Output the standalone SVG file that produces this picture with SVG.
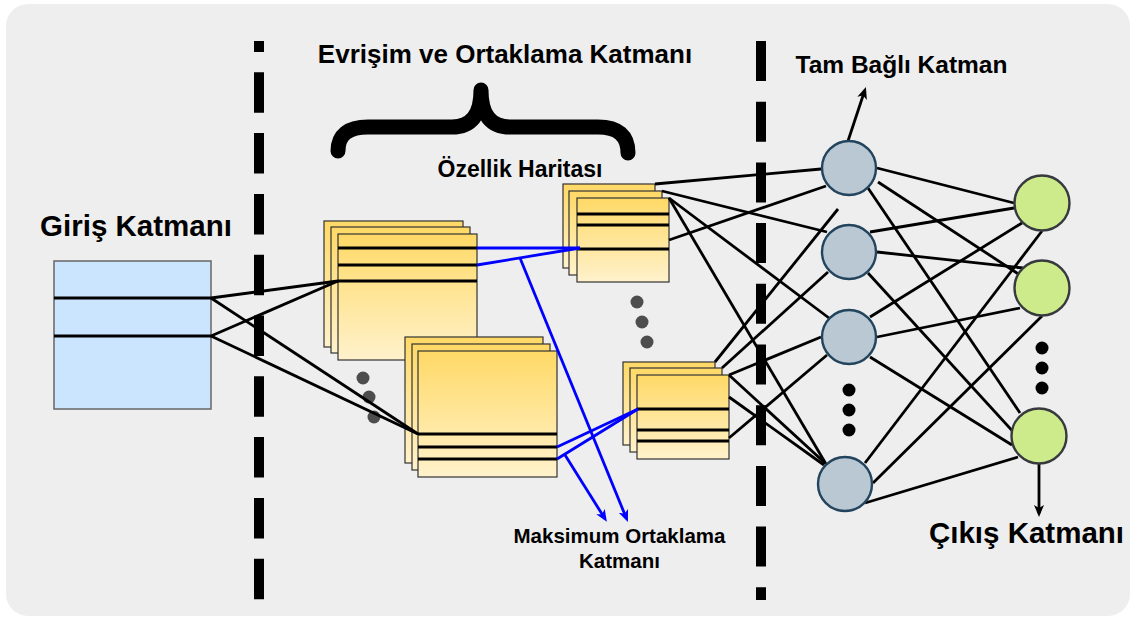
<svg xmlns="http://www.w3.org/2000/svg" width="1134" height="619" viewBox="0 0 1134 619">
  <defs>
    <linearGradient id="stackFill" x1="0" y1="0" x2="0" y2="1">
      <stop offset="0" stop-color="#ffd966"/>
      <stop offset="1" stop-color="#fff2cc"/>
    </linearGradient>
    <marker id="arrowBlack" viewBox="0 0 12 10" refX="8.5" refY="5" markerWidth="12" markerHeight="10" markerUnits="userSpaceOnUse" orient="auto">
      <path d="M0,0 L12,5 L0,10 L3,5 z" fill="#000000"/>
    </marker>
    <marker id="arrowBlue" viewBox="0 0 12 10" refX="8.5" refY="5" markerWidth="12" markerHeight="10" markerUnits="userSpaceOnUse" orient="auto">
      <path d="M0,0 L12,5 L0,10 L3,5 z" fill="#0000ff"/>
    </marker>
  </defs>
  <style>
    .label { font-family: "Liberation Sans", Arial, sans-serif; font-weight: bold; fill: #000000; text-anchor: middle; }
    .sheet { fill: url(#stackFill); stroke: #333333; stroke-width: 1.2; }
    .sheet-line { stroke: #000000; stroke-width: 3; }
    .link { stroke: #000000; stroke-width: 2.8; fill: none; }
    .pool { stroke: #0000ff; stroke-width: 2.8; fill: none; }
    .divider { stroke: #000000; stroke-width: 10; fill: none; }
    .hidden { fill: #bac8d3; stroke: #23445d; stroke-width: 2.4; }
    .out { fill: #cdeb8b; stroke: #36393d; stroke-width: 2.4; }
    .grey-dot { fill: #4d4d4d; }
    .black-dot { fill: #000000; }
  </style>

  <rect x="0" y="0" width="1134" height="619" fill="#ffffff"/>
  <rect x="6" y="4" width="1124" height="612" rx="22" fill="#eeeeee"/>

  <!-- section dividers -->
  <g id="dividers">
    <path class="divider" d="M259,41 L259,600" stroke-dasharray="40.5 20.3" stroke-dashoffset="29.5"/>
    <path class="divider" d="M761,41 L761,600" stroke-dasharray="40 20.7"/>
  </g>

  <!-- brace over the convolution part -->
  <g id="brace">
    <path d="M338,151 Q338,127 368,127 L452,127 Q481,127 481,90 Q481,127 510,127 L598,127 Q628,127 628,153" fill="none" stroke="#000000" stroke-width="15" stroke-linecap="round" stroke-linejoin="round"/>
  </g>

  <!-- input layer -->
  <g id="input-layer">
    <rect x="54" y="261" width="157" height="148" fill="#cce5ff" stroke="#666666" stroke-width="1.5"/>
    <line class="sheet-line" x1="54" y1="298" x2="211" y2="298"/>
    <line class="sheet-line" x1="54" y1="336" x2="211" y2="336"/>
  </g>

  <!-- convolution stacks -->
  <g id="conv-stack-a">
    <rect class="sheet" x="324" y="221" width="139" height="126"/>
    <rect class="sheet" x="331" y="227" width="139" height="126"/>
    <rect class="sheet" x="338" y="234" width="139" height="126"/>
    <line class="sheet-line" x1="338" y1="248" x2="477" y2="248"/>
    <line class="sheet-line" x1="338" y1="265" x2="477" y2="265"/>
    <line class="sheet-line" x1="338" y1="281" x2="477" y2="281"/>
  </g>
  <g id="conv-stack-b">
    <rect class="sheet" x="405" y="337" width="138" height="126"/>
    <rect class="sheet" x="412" y="344" width="138" height="126"/>
    <rect class="sheet" x="418" y="351" width="139" height="126"/>
    <line class="sheet-line" x1="418" y1="434" x2="557" y2="434"/>
    <line class="sheet-line" x1="418" y1="447" x2="557" y2="447"/>
    <line class="sheet-line" x1="418" y1="459" x2="557" y2="459"/>
  </g>
  <g id="conv-dots">
    <circle class="grey-dot" cx="363" cy="378" r="6.5"/>
    <circle class="grey-dot" cx="369" cy="397" r="6.5"/>
    <circle class="grey-dot" cx="374" cy="417" r="6.5"/>
  </g>

  <!-- pooled feature maps -->
  <g id="feature-map-top">
    <rect class="sheet" x="563" y="184" width="92" height="84"/>
    <rect class="sheet" x="569" y="191" width="93" height="84"/>
    <rect class="sheet" x="577" y="198" width="92" height="84"/>
    <line class="sheet-line" x1="577" y1="214" x2="669" y2="214"/>
    <line class="sheet-line" x1="577" y1="225" x2="669" y2="225"/>
    <line class="sheet-line" x1="577" y1="249" x2="669" y2="249"/>
  </g>
  <g id="feature-map-bottom">
    <rect class="sheet" x="623" y="362" width="92" height="83"/>
    <rect class="sheet" x="630" y="368" width="92" height="84"/>
    <rect class="sheet" x="637" y="375" width="92" height="84"/>
    <line class="sheet-line" x1="637" y1="409" x2="729" y2="409"/>
    <line class="sheet-line" x1="637" y1="430" x2="729" y2="430"/>
    <line class="sheet-line" x1="637" y1="441" x2="729" y2="441"/>
  </g>
  <g id="feature-dots">
    <circle class="grey-dot" cx="637" cy="302" r="6.5"/>
    <circle class="grey-dot" cx="642" cy="322" r="6.5"/>
    <circle class="grey-dot" cx="647" cy="342" r="6.5"/>
  </g>

  <!-- connectors -->
  <g id="connectors">
    <!-- input to convolution -->
    <line class="link" x1="211" y1="298" x2="338" y2="281"/>
    <line class="link" x1="211" y1="336" x2="338" y2="281"/>
    <line class="link" x1="211" y1="298" x2="418" y2="434"/>
    <line class="link" x1="211" y1="336" x2="418" y2="434"/>
    <!-- max pooling -->
    <line class="pool" x1="477" y1="248" x2="580" y2="248"/>
    <line class="pool" x1="477" y1="265" x2="580" y2="248"/>
    <line class="pool" x1="557" y1="447" x2="638" y2="409"/>
    <line class="pool" x1="557" y1="459" x2="638" y2="409"/>
    <line class="pool" x1="520" y1="258" x2="626.6" y2="518.8" marker-end="url(#arrowBlue)"/>
    <line class="pool" x1="565" y1="455" x2="605" y2="518.8" marker-end="url(#arrowBlue)"/>
    <!-- feature maps to fully connected -->
    <line class="link" x1="655" y1="184" x2="821" y2="169"/>
    <line class="link" x1="662" y1="191" x2="827" y2="232"/>
    <line class="link" x1="669" y1="198" x2="829" y2="318"/>
    <line class="link" x1="669" y1="198" x2="826" y2="464"/>
    <line class="link" x1="669" y1="240" x2="826" y2="186"/>
    <line class="link" x1="715" y1="362" x2="838" y2="209"/>
    <line class="link" x1="722" y1="368" x2="828" y2="272"/>
    <line class="link" x1="729" y1="375" x2="821" y2="337"/>
    <line class="link" x1="729" y1="375" x2="825" y2="463"/>
    <line class="link" x1="729" y1="397" x2="824" y2="465"/>
    <line class="link" x1="729" y1="438" x2="827" y2="355"/>
    <!-- hidden to output -->
    <line class="link" x1="877" y1="168" x2="1014" y2="203"/>
    <line class="link" x1="878" y1="182" x2="1023" y2="277"/>
    <line class="link" x1="868" y1="188" x2="1020" y2="413"/>
    <line class="link" x1="870" y1="232" x2="1014" y2="208"/>
    <line class="link" x1="877" y1="252" x2="1023" y2="268"/>
    <line class="link" x1="868" y1="273" x2="1018" y2="437"/>
    <line class="link" x1="870" y1="317" x2="1022" y2="223"/>
    <line class="link" x1="877" y1="337" x2="1020" y2="308"/>
    <line class="link" x1="870" y1="357" x2="1012" y2="445"/>
    <line class="link" x1="865" y1="463" x2="1042" y2="231"/>
    <line class="link" x1="873" y1="483" x2="1042" y2="316"/>
    <line class="link" x1="865" y1="503" x2="1018" y2="457"/>
    <!-- layer callouts -->
    <line class="link" x1="848" y1="141" x2="864.8" y2="90.3" marker-end="url(#arrowBlack)"/>
    <line class="link" x1="1039" y1="464" x2="1039" y2="513.5" marker-end="url(#arrowBlack)"/>
  </g>

  <!-- fully connected layer -->
  <g id="hidden-1"><circle class="hidden" cx="849" cy="168" r="27"/></g>
  <g id="hidden-2"><circle class="hidden" cx="849" cy="252" r="27"/></g>
  <g id="hidden-3"><circle class="hidden" cx="849" cy="337" r="27"/></g>
  <g id="hidden-4"><circle class="hidden" cx="845" cy="484" r="27"/></g>
  <g id="hidden-dots">
    <circle class="black-dot" cx="849" cy="390" r="6.5"/>
    <circle class="black-dot" cx="849" cy="410" r="6.5"/>
    <circle class="black-dot" cx="849" cy="430" r="6.5"/>
  </g>

  <!-- output layer -->
  <g id="output-1"><circle class="out" cx="1042" cy="203" r="27.5"/></g>
  <g id="output-2"><circle class="out" cx="1042" cy="288" r="27.5"/></g>
  <g id="output-3"><circle class="out" cx="1039" cy="436" r="27.5"/></g>
  <g id="output-dots">
    <circle class="black-dot" cx="1042" cy="348" r="6.5"/>
    <circle class="black-dot" cx="1042" cy="368" r="6.5"/>
    <circle class="black-dot" cx="1042" cy="388" r="6.5"/>
  </g>

  <!-- labels -->
  <g id="labels">
    <text class="label" x="136" y="236" font-size="29.5">Giriş Katmanı</text>
    <text class="label" x="505" y="63" font-size="26">Evrişim ve Ortaklama Katmanı</text>
    <text class="label" x="520" y="177" font-size="23">Özellik Haritası</text>
    <text class="label" x="901.5" y="73" font-size="24.5">Tam Bağlı Katman</text>
    <text class="label" x="619.5" y="543" font-size="20.5">Maksimum Ortaklama</text>
    <text class="label" x="619.5" y="568" font-size="20.5">Katmanı</text>
    <text class="label" x="1026.5" y="543" font-size="29.5">Çıkış Katmanı</text>
  </g>
</svg>
